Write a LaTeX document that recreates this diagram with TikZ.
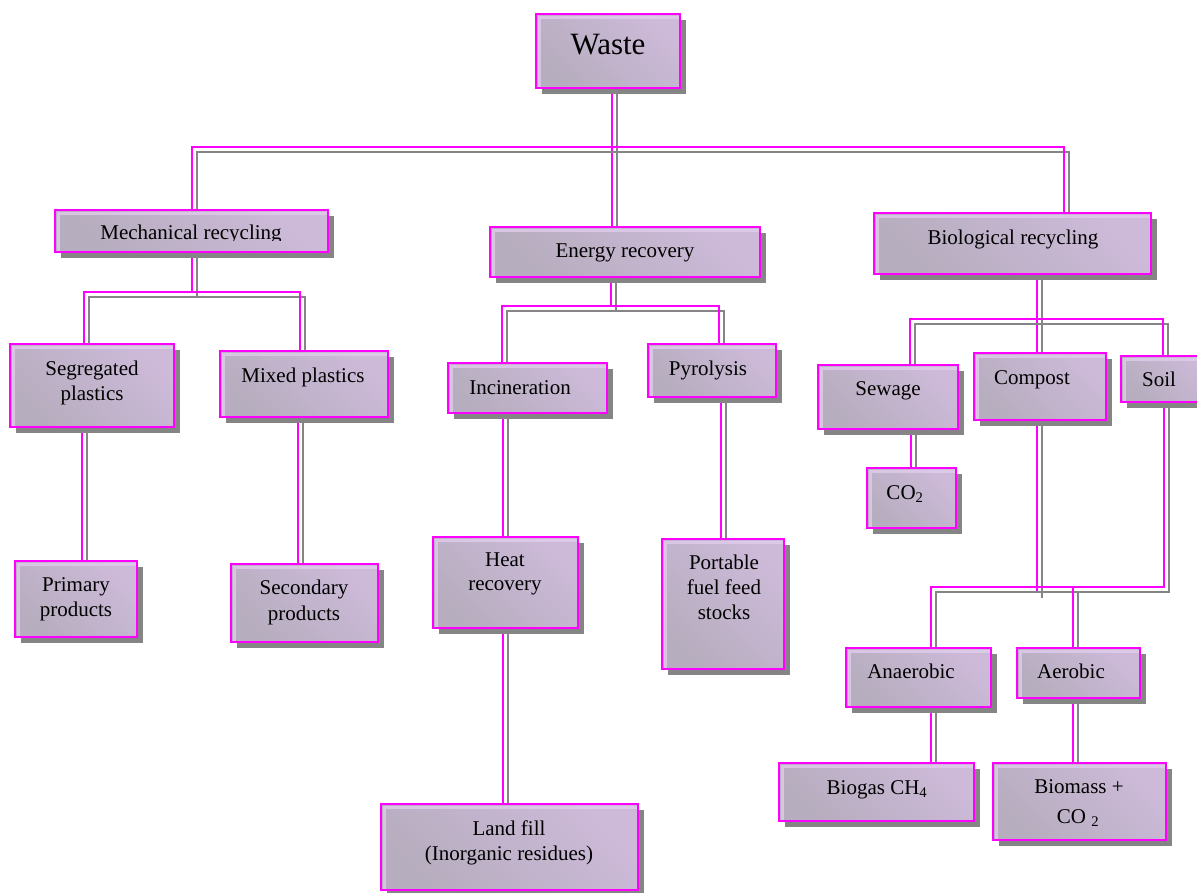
\documentclass[tikz,border=0pt]{standalone}
\usepackage{fontspec}
\setmainfont{Liberation Serif}
\usetikzlibrary{shadows}

\definecolor{mag}{HTML}{FF00FF}
\definecolor{shd}{HTML}{858585}
\definecolor{lavlight}{HTML}{CDBAD9}
\definecolor{lavgray}{HTML}{B6ADBE}
\definecolor{hilite}{HTML}{E0CCEC}

\pgfdeclarelayer{back}
\pgfdeclarelayer{wires}
\pgfsetlayers{back,wires,main}

\tikzset{
  box/.style={draw=mag, line width=2.4pt, inner sep=0pt, outer sep=0pt,
    anchor=north west, left color=lavgray, right color=lavlight,
    shading angle=135,
    drop shadow={shadow xshift=6pt, shadow yshift=-6pt, fill=shd, opacity=1},
    path picture={
      \draw[hilite, line width=3pt, opacity=0.8]
        ([xshift=3pt]path picture bounding box.south west)
        -- ([xshift=3pt,yshift=-3pt]path picture bounding box.north west)
        -- ([yshift=-3pt]path picture bounding box.north east);
    }},
  lbl/.style={anchor=base, inner sep=0pt, outer sep=0pt, text=black,
    font=\fontsize{21}{25}\selectfont},
  wmag/.style={draw=mag, line width=2pt},
  wshd/.style={draw=shd, line width=2pt, transform canvas={xshift=5pt, yshift=-5pt}},
}

% box: name, x1, y1, x2, y2 (top-left and bottom-right corners)
\newcommand\mkbox[5]{\node[box, minimum width=#4pt-#2pt, minimum height=#5pt-#3pt] (#1) at (#2,#3) {};}
% one line of text: name, x, baseline y, text
\newcommand\mktext[4]{\node[lbl] (#1) at (#2,#3) {#4};}
% connector with its grey offset shadow
\newcommand\wire[1]{\begin{pgfonlayer}{wires}\draw[wshd] #1;\draw[wmag] #1;\end{pgfonlayer}}

\begin{document}
\begin{tikzpicture}[x=1pt, y=-1pt]
\useasboundingbox (0,0) rectangle (1197,892);
\begin{pgfonlayer}{back}
  \fill[white] (0,0) rectangle (1197,892);
\end{pgfonlayer}

% ---- boxes ----
\mkbox{waste}{536}{14}{680}{88}
\node[lbl, font=\fontsize{31}{36}\selectfont] (waste-t) at (608,54) {Waste};

\mkbox{mech}{55}{210}{328}{252}
\begin{scope}
  \clip (55,210) rectangle (328,240);
  \mktext{mech-t}{191}{239}{Mechanical recycling}
\end{scope}
\mkbox{energy}{490}{227}{760}{277}
\mktext{energy-t}{625}{257}{Energy recovery}
\mkbox{bio}{874}{213}{1151}{274}
\mktext{bio-t}{1013}{244}{Biological recycling}

\mkbox{seg}{10}{344}{174}{427}
\mktext{seg-t1}{92}{375}{Segregated}
\mktext{seg-t2}{92}{400}{plastics}
\mkbox{mixed}{220}{351}{388}{417}
\mktext{mixed-t}{303}{382}{Mixed plastics}

\mkbox{prim}{15}{561}{137}{637}
\mktext{prim-t1}{76}{591}{Primary}
\mktext{prim-t2}{76}{616}{products}
\mkbox{sec}{231}{564}{378}{642}
\mktext{sec-t1}{304}{594}{Secondary}
\mktext{sec-t2}{304}{620}{products}

\mkbox{inc}{448}{363}{607}{413}
\mktext{inc-t}{520}{394}{Incineration}
\mkbox{pyro}{648}{344}{776}{397}
\mktext{pyro-t}{708}{375}{Pyrolysis}

\mkbox{heat}{433}{537}{578}{628}
\mktext{heat-t1}{505}{566}{Heat}
\mktext{heat-t2}{505}{590}{recovery}
\mkbox{port}{662}{539}{784}{669}
\mktext{port-t1}{724}{569}{Portable}
\mktext{port-t2}{724}{594}{fuel feed}
\mktext{port-t3}{724}{619}{stocks}

\mkbox{land}{381}{804}{638}{890}
\mktext{land-t1}{509}{835}{Land fill}
\mktext{land-t2}{509}{860}{(Inorganic residues)}

\mkbox{sew}{818}{365}{958}{429}
\mktext{sew-t}{888}{395}{Sewage}
\mkbox{comp}{974}{353}{1106}{420}
\mktext{comp-t}{1032}{384}{Compost}
\mkbox{soil}{1121}{356}{1215}{402}
\mktext{soil-t}{1159}{386}{Soil}

\mkbox{co2}{867}{468}{956}{528}
\mktext{co2-t}{905}{499}{CO\textsubscript{2}}

\mkbox{anaer}{846}{648}{991}{707}
\mktext{anaer-t}{911}{678}{Anaerobic}
\mkbox{aer}{1017}{648}{1140}{698}
\mktext{aer-t}{1071}{678}{Aerobic}

\mkbox{biogas}{779}{763}{974}{821}
\mktext{biogas-t}{877}{794}{Biogas CH\textsubscript{4}}
\mkbox{biomass}{993}{763}{1166}{840}
\mktext{biomass-t1}{1079}{793}{Biomass +}
\mktext{biomass-t2}{1078}{823}{CO \textsubscript{2}}

% ---- junction points of the connector buses ----
\coordinate (xw)  at (612,147);
\coordinate (barL) at (192,147);
\coordinate (barR) at (1064,147);
\coordinate (mJ) at (192,292);
\coordinate (mL) at (84,292);
\coordinate (mR) at (300,292);
\coordinate (xs) at (82,500);
\coordinate (xx) at (298,500);
\coordinate (eJ) at (611,306);
\coordinate (eL) at (502,306);
\coordinate (eR) at (719,306);
\coordinate (xi) at (503,500);
\coordinate (xp) at (721,500);
\coordinate (bJ) at (1037,319);
\coordinate (bL) at (910,319);
\coordinate (bR) at (1163,319);
\coordinate (xc) at (911,450);
\coordinate (cEnd) at (1037,593);
\coordinate (lR) at (1164,587);
\coordinate (lL) at (931,587);
\coordinate (aJ) at (1073,587);

% ---- connectors ----
\wire{(waste.south -| xw) -- (energy.north -| xw)}
\wire{(mech.north -| barL) -- (barL) -- (barR) -- (bio.north -| barR)}

\wire{(mech.south -| mJ) -- (mJ)}
\wire{(seg.north -| mL) -- (mL) -- (mR) -- (mixed.north -| mR)}
\wire{(seg.south -| xs) -- (prim.north -| xs)}
\wire{(mixed.south -| xx) -- (sec.north -| xx)}

\wire{(energy.south -| eJ) -- (eJ)}
\wire{(inc.north -| eL) -- (eL) -- (eR) -- (pyro.north -| eR)}
\wire{(inc.south -| xi) -- (heat.north -| xi)}
\wire{(heat.south -| xi) -- (land.north -| xi)}
\wire{(pyro.south -| xp) -- (port.north -| xp)}

\wire{(bio.south -| bJ) -- (comp.north -| bJ)}
\wire{(sew.north -| bL) -- (bL) -- (bR) -- (soil.north -| bR)}
\wire{(sew.south -| xc) -- (co2.north -| xc)}
\wire{(comp.south -| cEnd) -- (cEnd)}
\wire{(soil.south -| lR) -- (lR) -- (lL) -- (anaer.north -| lL)}
\wire{(aJ) -- (aer.north -| aJ)}
\wire{(anaer.south -| lL) -- (biogas.north -| lL)}
\wire{(aer.south -| aJ) -- (biomass.north -| aJ)}
\end{tikzpicture}
\end{document}
